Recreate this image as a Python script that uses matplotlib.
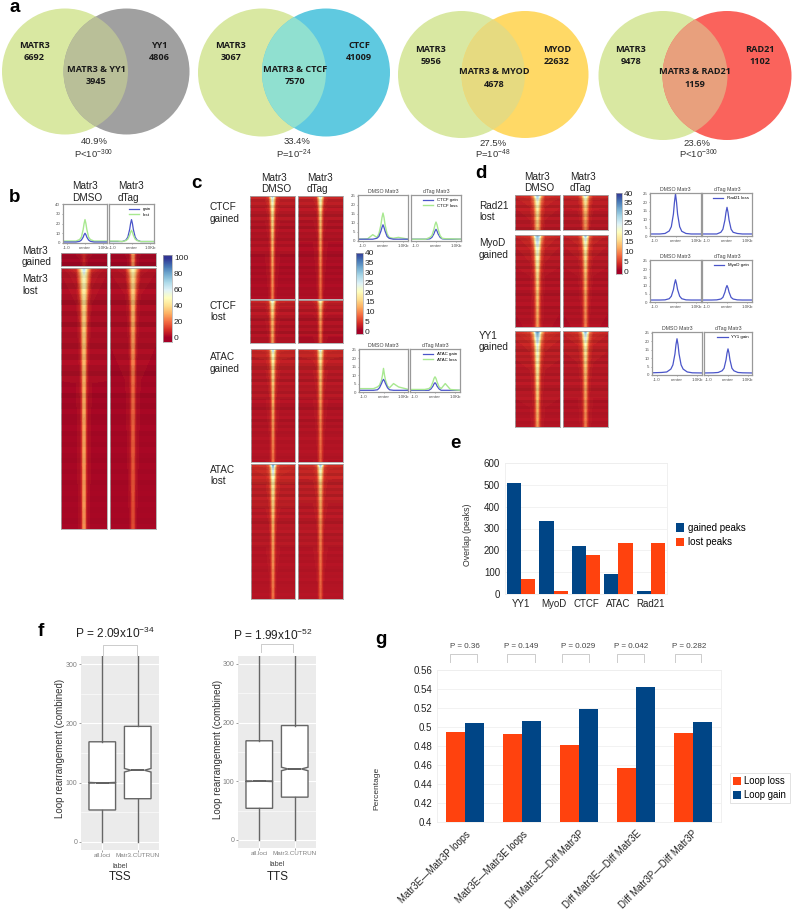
import numpy as np
import matplotlib
matplotlib.use("Agg")
import matplotlib.pyplot as plt
from matplotlib.patches import Circle

plt.rcParams['font.family'] = ['Liberation Sans', 'DejaVu Sans']
plt.rcParams['mathtext.fontset'] = 'custom'
plt.rcParams['mathtext.rm'] = 'Liberation Sans'
plt.rcParams['mathtext.default'] = 'regular'

W, H = 794, 911

# panel a: venn labels and counts
venn_names = ["YY1", "CTCF", "MYOD", "RAD21"]
venn_left = [6692, 3067, 5956, 9478]
venn_right = [4806, 41009, 22632, 1102]
venn_both = [3945, 7570, 4678, 1159]
venn_pct = ["40.9%", "33.4%", "27.5%", "23.6%"]
venn_p = ["P<10$^{-300}$", "P=10$^{-24}$", "P=10$^{-48}$", "P<10$^{-300}$"]

# panel e
e_names = ["YY1", "MyoD", "CTCF", "ATAC", "Rad21"]
e_gained = [508, 333, 218, 93, 15]
e_lost = [70, 15, 177, 235, 232]

# panel g
g_names = ["Matr3E—Matr3P loops", "Matr3E—Matr3E loops", "Diff Matr3E—Diff Matr3P",
           "Diff Matr3E—Diff Matr3E", "Diff Matr3P—Diff Matr3P"]
g_loss = [0.495, 0.493, 0.481, 0.457, 0.494]
g_gain = [0.504, 0.506, 0.519, 0.542, 0.505]
g_pvals = ["P = 0.36", "P = 0.149", "P = 0.029", "P = 0.042", "P = 0.282"]

# panel f: box stats
f_labels = ["all.loci", "Matr3.CUTRUN"]
f_q1 = [54, 73]
f_med = [100, 121]
f_q3 = [169, 195]
f_lo = [0, 0]
f_hi = [400, 400]
f_ci_lo = [99.5, 118]
f_ci_hi = [100.5, 124]

# line profiles, values at these positions around the center (kb)
prof_x = [-1.25, -.75, -.5, -.3, -.2, -.1, -.05, 0, .05, .1, .2, .3, .5, .75, 1.25]
b_dmso_gain = [1, 1, 1, 1.7, 3, 6, 8.5, 10, 8.5, 6, 3, 1.7, 1, 1, 1]
b_dmso_lost = [2, 2, 2, 3.5, 6, 14, 20, 24, 20, 14, 6, 3.5, 2, 2, 2]
b_dtag_gain = [1.5, 1.5, 1.5, 3, 6, 14, 20, 24, 20, 14, 6, 3, 1.5, 1.5, 1.5]
b_dtag_lost = [2, 2, 1.5, 2.5, 4, 8, 11, 13, 11, 8, 4, 2.5, 1.5, 1.5, 1.5]
ctcf_dmso_gain = [1, 1, 1, 1.5, 2.5, 5.5, 7.5, 9, 7.5, 5.5, 2.5, 1.5, 1, 1, 1]
ctcf_dmso_loss = [1, 1.2, 3.5, 2, 4, 9, 13, 15.5, 13, 9, 4, 2, 1.5, 2, 1]
ctcf_dtag_gain = [1, 1, 1, 1.2, 2, 4, 5.5, 6.5, 5.5, 4, 2, 1.2, 1, 1, 1]
ctcf_dtag_loss = [1, 1, 1, 2, 3, 6.5, 9, 10.5, 9, 6.5, 3, 1.5, 1.2, 1.2, 1]
atac_dmso_gain = [1, 1, 1, 1.3, 2.5, 5, 6.5, 7.5, 6.5, 5, 2.5, 1.3, 1, 1, 1]
atac_dmso_loss = [2, 2, 2, 3, 4, 7, 10, 14, 10, 7, 3.5, 2.5, 5, 3, 1.5]
atac_dtag_gain = [1, 1, 1, 1, 1.8, 3.5, 4.8, 5.5, 4.8, 3.5, 1.8, 1, 1, 1, 1]
atac_dtag_loss = [1.5, 1.5, 1.5, 2, 3, 6, 8, 9, 8, 6, 3, 2, 5, 1.5, 1]
rad21_dmso = [1.2, 1.2, 1.5, 3, 5.5, 13, 20, 25, 20, 13, 5.5, 2.8, 1.5, 1.2, 1.2]
rad21_dtag = [1.2, 1.2, 1.2, 2.2, 4, 9.5, 14, 17, 14, 9.5, 4, 2.2, 1.5, 1.2, 1.2]
myod_dmso = [1.2, 1.2, 1.3, 2, 3.5, 7.5, 11, 13.5, 11, 7.5, 3.5, 2, 1.3, 1.2, 1.2]
myod_dtag = [1.2, 1.2, 1.3, 1.8, 2.8, 6, 8.5, 10, 8.5, 6, 2.8, 1.8, 1.3, 1.2, 1.2]
yy1_dmso = [1.3, 1.5, 1.8, 3.5, 6, 12.5, 18, 21.5, 18, 12.5, 6, 3.5, 1.8, 1.3, 1.2]
yy1_dtag = [1.2, 1.3, 1.5, 2.5, 4, 9, 13, 15.5, 13, 9, 4, 2.5, 1.5, 1.3, 1.2]

# heatmaps: half profile (center outwards) at a few row depths, read by eye
heat_cols = [0, .04, .09, .16, .32, 1]
heat_rows = [0, .03, .15, .45, 1]
hb_gain_dmso = [[10, 9, 6, 3, 2.5, 2.5], [9, 8, 5, 3, 2.5, 2.5], [8, 7, 5, 3, 2.5, 2.5], [8, 6, 4, 2.5, 2, 2], [7, 5, 3, 2, 2, 2]]
hb_gain_dtag = [[28, 24, 12, 4, 2.5, 2.5], [27, 23, 11, 4, 2.5, 2.5], [26, 22, 10, 3, 2.5, 2.5], [25, 20, 9, 3, 2, 2], [24, 19, 8, 3, 2, 2]]
hb_lost_dmso = [[66, 60, 50, 34, 10, 4], [50, 46, 38, 24, 6, 3.5], [38, 34, 24, 9, 3.5, 3], [30, 26, 12, 4, 2.5, 2.5], [26, 22, 7, 3, 2, 2]]
hb_lost_dtag = [[50, 46, 38, 26, 7, 4], [40, 36, 28, 16, 5, 3.5], [32, 28, 16, 6, 3, 3], [20, 17, 8, 3, 2.5, 2], [14, 12, 5, 2.5, 2, 2]]
hc_ctcf_g_dmso = [[28, 22, 14, 6, 3.2, 3.2], [23, 17, 11, 4.5, 3, 3], [17, 12, 6, 3, 2.2, 2.2], [13, 8, 3.5, 2, 1.6, 1.6], [9, 5.5, 2.5, 1.5, 1.2, 1.2]]
hc_ctcf_g_dtag = [[26, 20, 13, 5, 3.2, 3.2], [21, 15, 10, 4, 3, 3], [15, 10, 5, 2.6, 2.2, 2.2], [11, 7, 3, 1.8, 1.5, 1.5], [7, 4.5, 2.2, 1.4, 1.1, 1.1]]
hc_ctcf_l_dmso = [[27, 22, 15, 6, 3.4, 3.4], [22, 17, 11, 4.5, 3.2, 3], [17, 13, 7, 3.5, 2.5, 2.5], [13, 9.5, 5, 2.5, 2, 2], [11, 7.5, 3.5, 2, 1.6, 1.6]]
hc_ctcf_l_dtag = [[24, 19, 13, 5.5, 3.2, 3.2], [19, 14, 9, 4, 3, 2.8], [14, 10, 5.5, 3, 2.3, 2.3], [11, 7.5, 3.5, 2, 1.8, 1.8], [8, 5.5, 2.5, 1.6, 1.4, 1.4]]
hc_atac_g_dmso = [[27, 20, 13, 6, 3.8, 3.5], [21, 16, 11, 5, 3.5, 3.2], [16, 12, 7, 3.5, 2.6, 2.6], [12, 8, 4, 2.4, 2, 2], [8, 5.5, 3, 1.8, 1.5, 1.5]]
hc_atac_g_dtag = [[26, 19, 12, 5.5, 3.8, 3.5], [20, 15, 10, 4.5, 3.5, 3.2], [15, 11, 6.5, 3.2, 2.6, 2.6], [11, 7.5, 4, 2.4, 2, 2], [7, 5, 2.8, 1.8, 1.5, 1.5]]
hc_atac_l_dmso = [[33, 28, 18, 8, 4.5, 4], [25, 20, 13, 6, 4, 3.5], [17, 14, 8, 4, 3, 3], [12, 8.5, 4.5, 2.5, 2.2, 2.2], [8, 5.5, 2.8, 1.8, 1.6, 1.6]]
hc_atac_l_dtag = [[31, 26, 16, 7, 4.2, 3.8], [22, 17, 11, 5, 3.6, 3.4], [14, 11, 6.5, 3.5, 2.8, 2.8], [10, 7.5, 4, 2.5, 2.2, 2.2], [7, 4.5, 2.6, 1.8, 1.6, 1.6]]
hd_rad21_dmso = [[33, 30, 25, 13, 4.5, 3.5], [28, 25, 20, 11, 4, 3.2], [22, 19, 14, 8, 3.4, 2.8], [17, 14, 10, 5, 2.8, 2.4], [13, 11, 8, 3.5, 2.2, 2]]
hd_rad21_dtag = [[31, 27, 20, 9, 4, 3.4], [24, 20, 15, 8, 3.6, 3.2], [18, 15, 11, 5.5, 3, 2.8], [13, 11, 8, 3.5, 2.5, 2.4], [10, 8, 6, 2.6, 2, 2]]
hd_myod_dmso = [[33, 30, 26, 13, 4.5, 3.2], [27, 25, 20, 11, 3.8, 2.8], [22, 19, 13, 6, 3, 2.4], [16, 12, 7, 3.2, 2, 1.8], [11, 8, 4.5, 2.4, 1.6, 1.4]]
hd_myod_dtag = [[32, 27, 19, 9, 4, 3.2], [24, 20, 15, 7, 3.4, 2.8], [18, 14, 9, 4.5, 2.8, 2.4], [13, 9.5, 5.5, 3, 2, 1.8], [9, 6.5, 3.5, 2, 1.6, 1.4]]
hd_yy1_dmso = [[36, 33, 28, 16, 6, 3.6], [30, 27, 22, 12, 4.5, 3.2], [23, 19, 13, 6.5, 3.2, 2.8], [17, 13, 7, 3.2, 2.4, 2.2], [11, 8, 4.5, 2.4, 1.8, 1.8]]
hd_yy1_dtag = [[33, 29, 22, 11, 5, 3.4], [26, 22, 17, 8, 4, 3], [19, 15, 9.5, 5, 3, 2.6], [13, 10, 5.5, 3, 2.2, 2.2], [9, 6.5, 3.5, 2.2, 1.8, 1.8]]
# darker rows seen as faint streaks across the heatmaps, top to bottom
heat_streak = [.02, .10, .04, .13, .01, .08, .15, .03, .11, .05, .14, .02, .09, .06, .12, .03,
               .10, .01, .08, .13, .04, .07, .02, .11, .05, .09, .03, .08, .06, .02, .07, .04,
               .06, .02, .05, .07, .03, .05, .02, .06, .04, .03, .05, .02, .04, .03, .05, .02]

GAIN_BLUE = '#4a55c9'
LOST_GREEN = '#a8e890'
NAVY = '#004586'
ORANGE = '#ff420e'

fig = plt.figure(figsize=(W / 100, H / 100), dpi=100)

# page axes in pixels, used for the venns and all loose text
page = fig.add_axes([0, 0, 1, 1])
page.set_xlim(0, W)
page.set_ylim(H, 0)
page.axis('off')


def px_axes(x0, y0, x1, y1):
    return fig.add_axes([x0 / W, 1 - y1 / H, (x1 - x0) / W, (y1 - y0) / H])


def label(x, y, s, size=7.2, ha='left', color='#222222', **kw):
    page.text(x, y, s, fontsize=size, ha=ha, va='center', color=color, **kw)


def bracket(x0, x1, y0, y1):
    page.plot([x0, x0, x1, x1], [y1, y0, y0, y1], color='#cccccc', lw=0.7)


def heatmap(box, rows, vmax):
    ax = px_axes(*box)
    half = np.array(rows, dtype=float)
    z = np.hstack([half[:, :0:-1], half])
    cols = np.array(heat_cols)
    xs = np.concatenate([-cols[:0:-1], cols])
    # contourf interpolates the values themselves, so colours follow the colormap
    ax.contourf(xs, heat_rows, z, levels=np.linspace(0, vmax, 80), cmap='RdYlBu',
                vmin=0, vmax=vmax, extend='both')
    # streaks go on top as a thin dark layer, short heatmaps only use the first rows
    n = max(4, min(len(heat_streak), int((box[3] - box[1]) / 3)))
    shade = np.array(heat_streak[:n])[:, None]
    ax.imshow(np.zeros_like(shade), cmap='gray', vmin=0, vmax=1, alpha=shade, zorder=5,
              aspect='auto', extent=[-1, 1, 1, 0], interpolation='nearest')
    ax.set_xlim(-1, 1)
    ax.set_ylim(1, 0)
    ax.set_xticks([])
    ax.set_yticks([])
    for s in ax.spines.values():
        s.set_color('#aaaaaa')
        s.set_linewidth(0.6)


def colorbar(box, ticks, lo, hi, vmax):
    ax = px_axes(*box)
    grad = np.linspace(hi, lo, 128)[:, None]
    ax.imshow(grad, aspect='auto', cmap='RdYlBu', vmin=0, vmax=vmax, extent=[0, 1, lo, hi])
    ax.set_xticks([])
    ax.yaxis.tick_right()
    ax.set_yticks(ticks)
    ax.tick_params(axis='y', length=0, pad=1.5, labelsize=6, labelcolor='#222222')
    for s in ax.spines.values():
        s.set_color('#aaaaaa')
        s.set_linewidth(0.5)


def profile(box, series, ymax, yticks, title=None, legend=None, left=True):
    ax = px_axes(*box)
    names = legend if legend else [None] * len(series)
    for (vals, col, lw), name in zip(series, names):
        ax.plot(prof_x, vals, color=col, lw=lw, label=name)
    ax.set_xlim(-1.22, 1.22)
    ax.set_ylim(0, ymax)
    ax.set_xticks([-1, 0, 1], ['-1.0', 'center', '1.0Kb'])
    ax.set_yticks(yticks if left else [])
    ax.tick_params(length=1, width=0.4, pad=1, labelsize=3.2, colors='#555555')
    if title:
        ax.set_title(title, fontsize=3.8, pad=1.5, color='#444444')
    if legend:
        ax.legend(loc='upper right', frameon=False, fontsize=3.2, handlelength=2.4,
                  borderpad=0.2, labelspacing=0.3)
    for s in ax.spines.values():
        s.set_color('#999999')
        s.set_linewidth(0.9)


# panel letters
for x, y, s in [(15, 7, 'a'), (15, 197, 'b'), (196, 184, 'c'), (481, 174, 'd'),
                (455, 443, 'e'), (41, 632, 'f'), (381, 640, 'g')]:
    page.text(x, y, s, fontsize=13.5, fontweight='bold', ha='center', va='center', color='black',
              family=['Liberation Sans'])

# ---- panel a ----
venn_geo = [(65, 126.5, 71.5, 63), (262, 326, 72.5, 64), (461.5, 525, 74.5, 63.5), (663, 727, 75.5, 64.5)]
venn_cols = [('#a0a0a0', '#b9bf98'), ('#5fc9e0', '#90e0d0'), ('#ffd966', '#e6da80'), ('#fa635c', '#e8a07d')]
venn_text = [
    (34, 159, 96, 46, 69, 94, 94),
    (231, 359, 295, 46, 69, 297, 294),
    (431, 557, 494, 49, 72, 493, 493),
    (631, 760, 695, 49, 72, 697, 699),
]
for i in range(4):
    cxl, cxr, cy, r = venn_geo[i]
    right_col, mid_col = venn_cols[i]
    page.add_patch(Circle((cxl, cy), r, fc='#d9e8a2', ec='none'))
    right = Circle((cxr, cy), r, fc=right_col, ec='none')
    page.add_patch(right)
    mid = Circle((cxl, cy), r, fc=mid_col, ec='none')
    page.add_patch(mid)
    mid.set_clip_path(right)
    xl, xr, xm, ys, ym, xp, xq = venn_text[i]
    for x, y, s in [(xl, ys, 'MATR3'), (xl, ys + 12, str(venn_left[i])),
                    (xr, ys, venn_names[i]), (xr, ys + 12, str(venn_right[i])),
                    (xm, ym, 'MATR3 & ' + venn_names[i]), (xm, ym + 12.5, str(venn_both[i]))]:
        page.text(x, y, s, fontsize=6.6, fontweight='bold', ha='center', va='center',
                  color='#1a1a1a', family=['Open Sans', 'DejaVu Sans'])
    label(xp, 142 + (2 if i > 1 else 0), venn_pct[i], size=6.8, ha='center', color='#333333')
    label(xq, 154, venn_p[i], size=6.8, ha='center', color='#333333')

# ---- panel b ----
label(72, 186, 'Matr3')
label(72, 198, 'DMSO')
label(118, 186, 'Matr3')
label(118, 198, 'dTag')
label(22, 251, 'Matr3')
label(22, 262, 'gained')
label(22, 279, 'Matr3')
label(22, 291, 'lost')
profile((63, 204, 107, 243), [(b_dmso_lost, LOST_GREEN, 1), (b_dmso_gain, GAIN_BLUE, 0.9)], 40, [0, 10, 20, 30, 40])
profile((109, 204, 154, 243), [(b_dtag_gain, GAIN_BLUE, 0.9), (b_dtag_lost, LOST_GREEN, 1)], 40, [],
        legend=['gain', 'lost'], left=False)
heatmap((61, 253, 107, 266), hb_gain_dmso, 100)
heatmap((110, 253, 156, 266), hb_gain_dtag, 100)
heatmap((61, 268, 107, 529), hb_lost_dmso, 100)
heatmap((110, 268, 156, 529), hb_lost_dtag, 100)
colorbar((163, 255, 172, 342), [0, 20, 40, 60, 80, 100], -5, 103.75, 100)

# ---- panel c ----
label(261, 178, 'Matr3')
label(261, 189, 'DMSO')
label(307, 178, 'Matr3')
label(307, 189, 'dTag')
for y, a, b in [(207, 'CTCF', 'gained'), (306, 'CTCF', 'lost'), (357, 'ATAC', 'gained'), (470, 'ATAC', 'lost')]:
    label(210, y, a)
    label(210, y + 11.5, b)
heatmap((250, 196, 295, 299), hc_ctcf_g_dmso, 40)
heatmap((298, 196, 343, 299), hc_ctcf_g_dtag, 40)
heatmap((250, 300, 295, 343), hc_ctcf_l_dmso, 40)
heatmap((298, 300, 343, 343), hc_ctcf_l_dtag, 40)
heatmap((251, 349, 295, 462), hc_atac_g_dmso, 40)
heatmap((298, 349, 343, 462), hc_atac_g_dtag, 40)
heatmap((251, 464, 295, 599), hc_atac_l_dmso, 40)
heatmap((298, 464, 343, 599), hc_atac_l_dtag, 40)
colorbar((356, 253, 363, 334), list(range(0, 45, 5)), -1.5, 40, 40)
t25 = [0, 5, 10, 15, 20, 25]
profile((358, 195, 408, 241), [(ctcf_dmso_loss, LOST_GREEN, 1), (ctcf_dmso_gain, GAIN_BLUE, 0.9)], 25.5, t25, 'DMSO Matr3')
profile((411, 195, 461, 241), [(ctcf_dtag_gain, GAIN_BLUE, 0.9), (ctcf_dtag_loss, LOST_GREEN, 1)], 25.5, t25, 'dTag Matr3',
        legend=['CTCF gain', 'CTCF loss'], left=False)
profile((359, 349, 408, 392), [(atac_dmso_loss, LOST_GREEN, 1), (atac_dmso_gain, GAIN_BLUE, 0.9)], 25.5, t25, 'DMSO Matr3')
profile((410, 349, 460, 392), [(atac_dtag_gain, GAIN_BLUE, 0.9), (atac_dtag_loss, LOST_GREEN, 1)], 25.5, t25, 'dTag Matr3',
        legend=['ATAC gain', 'ATAC loss'], left=False)

# ---- panel d ----
label(524, 177, 'Matr3')
label(524, 188, 'DMSO')
label(570, 177, 'Matr3')
label(570, 188, 'dTag')
for y, a, b in [(206, 'Rad21', 'lost'), (243, 'MyoD', 'gained'), (336, 'YY1', 'gained')]:
    label(479, y, a)
    label(479, y + 11.5, b)
heatmap((515, 195, 560, 230), hd_rad21_dmso, 40)
heatmap((563, 195, 608, 230), hd_rad21_dtag, 40)
heatmap((515, 235, 560, 327), hd_myod_dmso, 40)
heatmap((563, 235, 608, 327), hd_myod_dtag, 40)
heatmap((515, 331, 560, 427), hd_yy1_dmso, 40)
heatmap((563, 331, 608, 427), hd_yy1_dtag, 40)
colorbar((616, 193, 622, 274), list(range(0, 45, 5)), -1.5, 40, 40)
profile((650, 193, 701, 236), [(rad21_dmso, GAIN_BLUE, 0.9)], 25.5, t25, 'DMSO Matr3')
profile((702, 193, 752, 236), [(rad21_dtag, GAIN_BLUE, 0.9)], 25.5, t25, 'dTag Matr3', legend=['Rad21 loss'], left=False)
profile((650, 260, 701, 302), [(myod_dmso, GAIN_BLUE, 0.9)], 25.5, t25, 'DMSO Matr3')
profile((702, 260, 752, 302), [(myod_dtag, GAIN_BLUE, 0.9)], 25.5, t25, 'dTag Matr3', legend=['MyoD gain'], left=False)
profile((652, 332, 702, 375), [(yy1_dmso, GAIN_BLUE, 0.9)], 25.5, t25, 'DMSO Matr3')
profile((704, 332, 752, 375), [(yy1_dtag, GAIN_BLUE, 0.9)], 25.5, t25, 'dTag Matr3', legend=['YY1 gain'], left=False)


def soft_axes(ax):
    ax.set_axisbelow(True)
    ax.grid(axis='y', color='#f0f0f0', lw=0.6)
    for s in ax.spines.values():
        s.set_color('#eeeeee')
        s.set_linewidth(0.6)
    ax.tick_params(length=0, labelsize=7, labelcolor='#222222')


# ---- panel e ----
ax_e = px_axes(505, 463, 667, 594)
x_e = np.arange(len(e_names))
bw = 0.44
ax_e.bar(x_e - bw / 2, e_gained, bw, color=NAVY, label='gained peaks')
ax_e.bar(x_e + bw / 2, e_lost, bw, color=ORANGE, label='lost peaks')
ax_e.set_xlim(-0.5, 4.5)
ax_e.set_ylim(0, 600)
ax_e.set_xticks(x_e, e_names)
soft_axes(ax_e)
ax_e.legend(loc='center left', bbox_to_anchor=(1.055, 0.45), frameon=False, fontsize=7,
            handlelength=0.85, handleheight=0.9, handletextpad=0.35, labelspacing=0.45,
            borderpad=0, borderaxespad=0)
label(468, 535, 'Overlap (peaks)', size=6.3, ha='center', rotation=90, color='#333333')


# ---- panel f ----
def loop_box(box, zero_y, hundred_px):
    ax = px_axes(*box)
    ax.set_facecolor('#ebebeb')
    stats = []
    for i in range(2):
        stats.append(dict(med=f_med[i], q1=f_q1[i], q3=f_q3[i], whislo=f_lo[i], whishi=f_hi[i],
                          cilo=f_ci_lo[i], cihi=f_ci_hi[i], label=f_labels[i], fliers=[]))
    ax.bxp(stats, positions=[1, 2], widths=0.75, shownotches=True, showcaps=False, showfliers=False,
           patch_artist=True, zorder=3,
           boxprops=dict(facecolor='white', edgecolor='#666666', linewidth=1),
           whiskerprops=dict(color='#666666', linewidth=1),
           medianprops=dict(color='#333333', linewidth=1.1))
    ax.set_xlim(0.4, 2.6)
    ax.set_ylim((zero_y - box[3]) / hundred_px * 100, (zero_y - box[1]) / hundred_px * 100)
    ax.set_yticks([0, 100, 200, 300])
    ax.set_yticks([50, 150, 250], minor=True)
    ax.grid(which='major', color='white', lw=0.8)
    ax.grid(which='minor', axis='y', color='white', lw=0.4)
    ax.set_axisbelow(True)
    ax.tick_params(which='major', length=1.5, width=0.5, color='#777777', pad=1, labelsize=5, labelcolor='#808080')
    ax.tick_params(axis='x', which='major', labelsize=4.5)
    ax.tick_params(which='minor', length=0)
    for s in ax.spines.values():
        s.set_visible(False)


loop_box((81, 656, 159, 850), 842, 59.3)
loop_box((238, 656, 316, 848), 840, 58.7)
label(60, 748, 'Loop rearrangement (combined)', size=7, ha='center', rotation=90, color='#333333')
label(218, 749, 'Loop rearrangement (combined)', size=7, ha='center', rotation=90, color='#333333')
label(120, 866, 'label', size=5.2, ha='center', color='#444444')
label(277, 864, 'label', size=5.2, ha='center', color='#444444')
label(120, 877, 'TSS', size=8.4, ha='center')
label(278, 877, 'TTS', size=8.4, ha='center')
label(115, 633, 'P = 2.09x10$^{-34}$', size=8.6, ha='center')
label(273, 635, 'P = 1.99x10$^{-52}$', size=8.6, ha='center')
bracket(103, 137, 645, 656)
bracket(261, 293, 644, 652)

# ---- panel g ----
ax_g = px_axes(437, 670, 721, 822)
x_g = np.arange(len(g_names))
bw = 0.335
ax_g.bar(x_g - bw / 2, g_loss, bw, color=ORANGE, label='Loop loss')
ax_g.bar(x_g + bw / 2, g_gain, bw, color=NAVY, label='Loop gain')
ax_g.set_xlim(-0.5, 4.5)
ax_g.set_ylim(0.4, 0.56)
ax_g.set_yticks(np.arange(0.40, 0.561, 0.02), ['0.4', '0.42', '0.44', '0.46', '0.48', '0.5', '0.52', '0.54', '0.56'])
ax_g.set_xticks(x_g)
ax_g.set_xticklabels(g_names, rotation=45, ha='right', rotation_mode='anchor')
soft_axes(ax_g)
ax_g.tick_params(axis='x', labelsize=6.9, pad=5)
leg = ax_g.legend(loc='center left', bbox_to_anchor=(1.032, 0.224), frameon=True, fancybox=False, fontsize=6.9,
                  handlelength=0.8, handleheight=0.9, handletextpad=0.35, labelspacing=0.4, borderpad=0.35,
                  framealpha=1, borderaxespad=0)
leg.get_frame().set_edgecolor('#dddddd')
leg.get_frame().set_linewidth(0.6)
label(377, 788, 'Percentage', size=6, ha='center', rotation=90, color='#333333')
for p, xc, x0, x1 in zip(g_pvals, [465, 521, 578, 631, 689], [450, 507, 562, 617, 675], [477, 535, 589, 644, 701]):
    label(xc, 646, p, size=5.8, ha='center', color='#444444')
    bracket(x0, x1, 654, 662)

fig.savefig('out.png', dpi=100)
